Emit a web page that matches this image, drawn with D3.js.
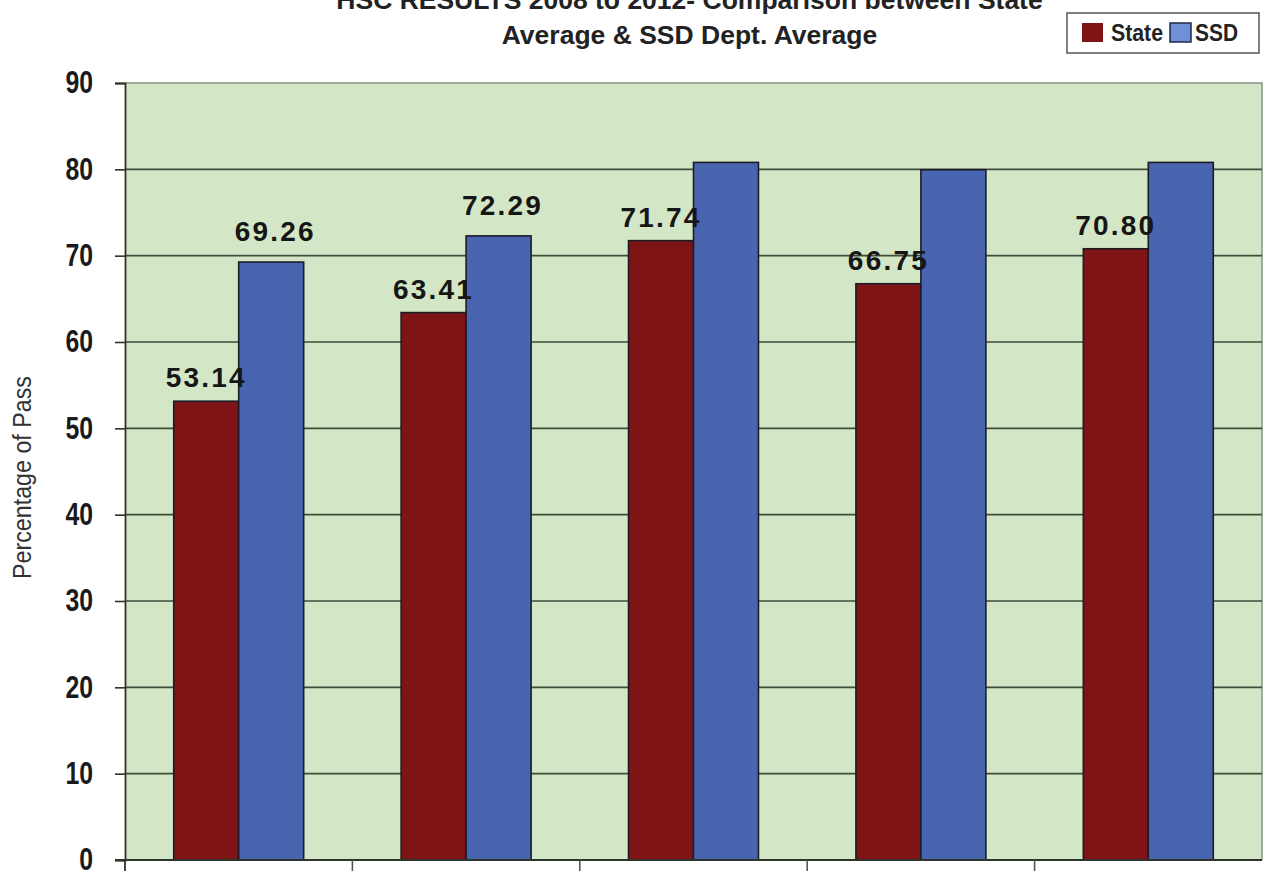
<!DOCTYPE html>
<html>
<head>
<meta charset="utf-8">
<script src="https://cdn.jsdelivr.net/npm/d3@7"></script>
<style>
  html, body { margin: 0; padding: 0; background: #ffffff; }
  svg { display: block; }
  .sans { font-family: "Liberation Sans", Arial, sans-serif; }
</style>
</head>
<body>
<svg id="chart" width="1264" height="871"></svg>
<script>
// HSC pass percentages, 2008–2012
const years = ["2008", "2009", "2010", "2011", "2012"];
const seriesNames = ["State", "SSD"];
const stateValues = [53.14, 63.41, 71.74, 66.75, 70.80];
const ssdValues = [69.26, 72.29, 80.8, 79.95, 80.8];
// only these values carry a printed label
const stateLabels = ["53.14", "63.41", "71.74", "66.75", "70.80"];
const ssdLabels = ["69.26", "72.29", null, null, null];
const yTicks = [0, 10, 20, 30, 40, 50, 60, 70, 80, 90];
const titleLines = ["HSC RESULTS 2008 to 2012- Comparison between State", "Average & SSD Dept. Average"];
const seriesColors = ["#7e1416", "#4965b0"];

const svg = d3.select("#chart");
const plot = { left: 125, right: 1262, top: 83, bottom: 860 };

// squeeze a text horizontally to mimic a condensed face
function condense(sel, factor) {
  sel.each(function () {
    const w = this.getComputedTextLength();
    d3.select(this).attr("textLength", w * factor).attr("lengthAdjust", "spacingAndGlyphs");
  });
}

const x = d3.scaleBand().domain(years).range([plot.left, plot.right]).paddingInner(0).paddingOuter(0);
const xInner = d3.scaleBand().domain(seriesNames).range([0, x.bandwidth()]).paddingInner(0).paddingOuter(0.75);
const y = d3.scaleLinear().domain([0, 90]).range([plot.bottom, plot.top]);

// plot background
svg.append("rect")
  .attr("x", plot.left).attr("y", plot.top)
  .attr("width", plot.right - plot.left).attr("height", plot.bottom - plot.top)
  .attr("fill", "#d3e7c6");

// frame on the top and right
svg.append("path")
  .attr("d", `M${plot.left},${plot.top}H${plot.right}V${plot.bottom}`)
  .attr("fill", "none").attr("stroke", "#8a9385").attr("stroke-width", 1.5);

// horizontal gridlines
svg.append("g").selectAll("line")
  .data(yTicks.filter(d => d > 0 && d < 90))
  .join("line")
  .attr("x1", plot.left).attr("x2", plot.right)
  .attr("y1", d => y(d)).attr("y2", d => y(d))
  .attr("stroke", "#3f4d3a").attr("stroke-width", 1.6);

// bars
const rows = years.map((yr, i) => ({ year: yr, values: [stateValues[i], ssdValues[i]], labels: [stateLabels[i], ssdLabels[i]] }));
const groups = svg.append("g").selectAll("g")
  .data(rows).join("g")
  .attr("transform", d => `translate(${x(d.year)},0)`);

groups.selectAll("rect")
  .data(d => seriesNames.map((s, k) => ({ series: s, value: d.values[k], k })))
  .join("rect")
  .attr("x", d => xInner(d.series))
  .attr("y", d => y(d.value))
  .attr("width", xInner.bandwidth())
  .attr("height", d => y(0) - y(d.value))
  .attr("fill", d => seriesColors[d.k])
  .attr("stroke", "#1b1c26").attr("stroke-width", 1.6);

// value labels
groups.selectAll("text")
  .data(d => seriesNames.map((s, k) => ({ series: s, value: d.values[k], label: d.labels[k], k })).filter(d => d.label))
  .join("text")
  .attr("class", "sans")
  .attr("x", d => xInner(d.series) + xInner.bandwidth() / 2 + (d.k === 1 ? 4 : 0))
  .attr("y", d => y(d.value) - (d.k === 0 ? 14 : 21))
  .attr("text-anchor", "middle")
  .attr("font-size", 28).attr("font-weight", "bold")
  .attr("letter-spacing", 2.2)
  .attr("fill", "#161616")
  .text(d => d.label);

// left axis
const yAxis = d3.axisLeft(y).tickValues(yTicks).tickSize(10).tickPadding(22).tickFormat(d3.format("d"));
const yAxisG = svg.append("g").attr("transform", `translate(${plot.left},0)`).call(yAxis);
yAxisG.select(".domain").attr("stroke", "#2d342b").attr("stroke-width", 1.8);
yAxisG.selectAll(".tick line").attr("stroke", "#2d342b").attr("stroke-width", 1.6);
yAxisG.selectAll(".tick text")
  .attr("class", "sans")
  .attr("font-size", 31).attr("font-weight", "bold")
  .attr("fill", "#1a1a1a")
  .call(condense, 0.8);

// bottom axis: ticks between categories
const boundaries = years.map(d => x(d)).concat([plot.right]);
svg.append("line")
  .attr("x1", plot.left - 10).attr("x2", plot.right)
  .attr("y1", plot.bottom).attr("y2", plot.bottom)
  .attr("stroke", "#2d342b").attr("stroke-width", 1.8);
svg.append("g").selectAll("line")
  .data(boundaries.slice(1, -1))
  .join("line")
  .attr("x1", d => d).attr("x2", d => d)
  .attr("y1", plot.bottom).attr("y2", plot.bottom + 12)
  .attr("stroke", "#555a52").attr("stroke-width", 1.6);
svg.append("line")
  .attr("x1", plot.left).attr("x2", plot.left)
  .attr("y1", plot.bottom).attr("y2", plot.bottom + 12)
  .attr("stroke", "#2d342b").attr("stroke-width", 1.8);

// y-axis title
svg.append("text")
  .attr("class", "sans")
  .attr("transform", `translate(31,${(plot.top + plot.bottom) / 2 + 6}) rotate(-90)`)
  .attr("text-anchor", "middle")
  .attr("font-size", 25)
  .attr("fill", "#333")
  .text("Percentage of Pass")
  .call(condense, 0.93);

// chart title
const titleX = (plot.left + plot.right) / 2 - 4;
svg.append("g").selectAll("text")
  .data(titleLines).join("text")
  .attr("class", "sans")
  .attr("x", titleX).attr("y", (d, i) => 9 + i * 35)
  .attr("text-anchor", "middle")
  .attr("font-size", 26.5).attr("font-weight", "bold")
  .attr("fill", "#222")
  .text(d => d);

// legend
const legend = svg.append("g");
legend.append("rect")
  .attr("x", 1067).attr("y", 13).attr("width", 192).attr("height", 40)
  .attr("fill", "#ffffff").attr("stroke", "#555").attr("stroke-width", 1.5);
const legendItems = [
  { name: seriesNames[0], color: seriesColors[0], sx: 1082, tx: 1111, w: 52 },
  { name: seriesNames[1], color: "#6f8fd6", sx: 1170, tx: 1195, w: 43 }
];
legend.selectAll("rect.key")
  .data(legendItems).join("rect")
  .attr("class", "key")
  .attr("x", d => d.sx).attr("y", 23).attr("width", 21).attr("height", 19)
  .attr("fill", d => d.color)
  .attr("stroke", (d, i) => i === 1 ? "#1e2a4a" : "none").attr("stroke-width", 1.5);
legend.selectAll("text")
  .data(legendItems).join("text")
  .attr("class", "sans")
  .attr("x", d => d.tx).attr("y", 41)
  .attr("font-size", 23).attr("font-weight", "bold")
  .attr("fill", "#222")
  .text(d => d.name)
  .attr("textLength", d => d.w).attr("lengthAdjust", "spacingAndGlyphs");
</script>
</body>
</html>
